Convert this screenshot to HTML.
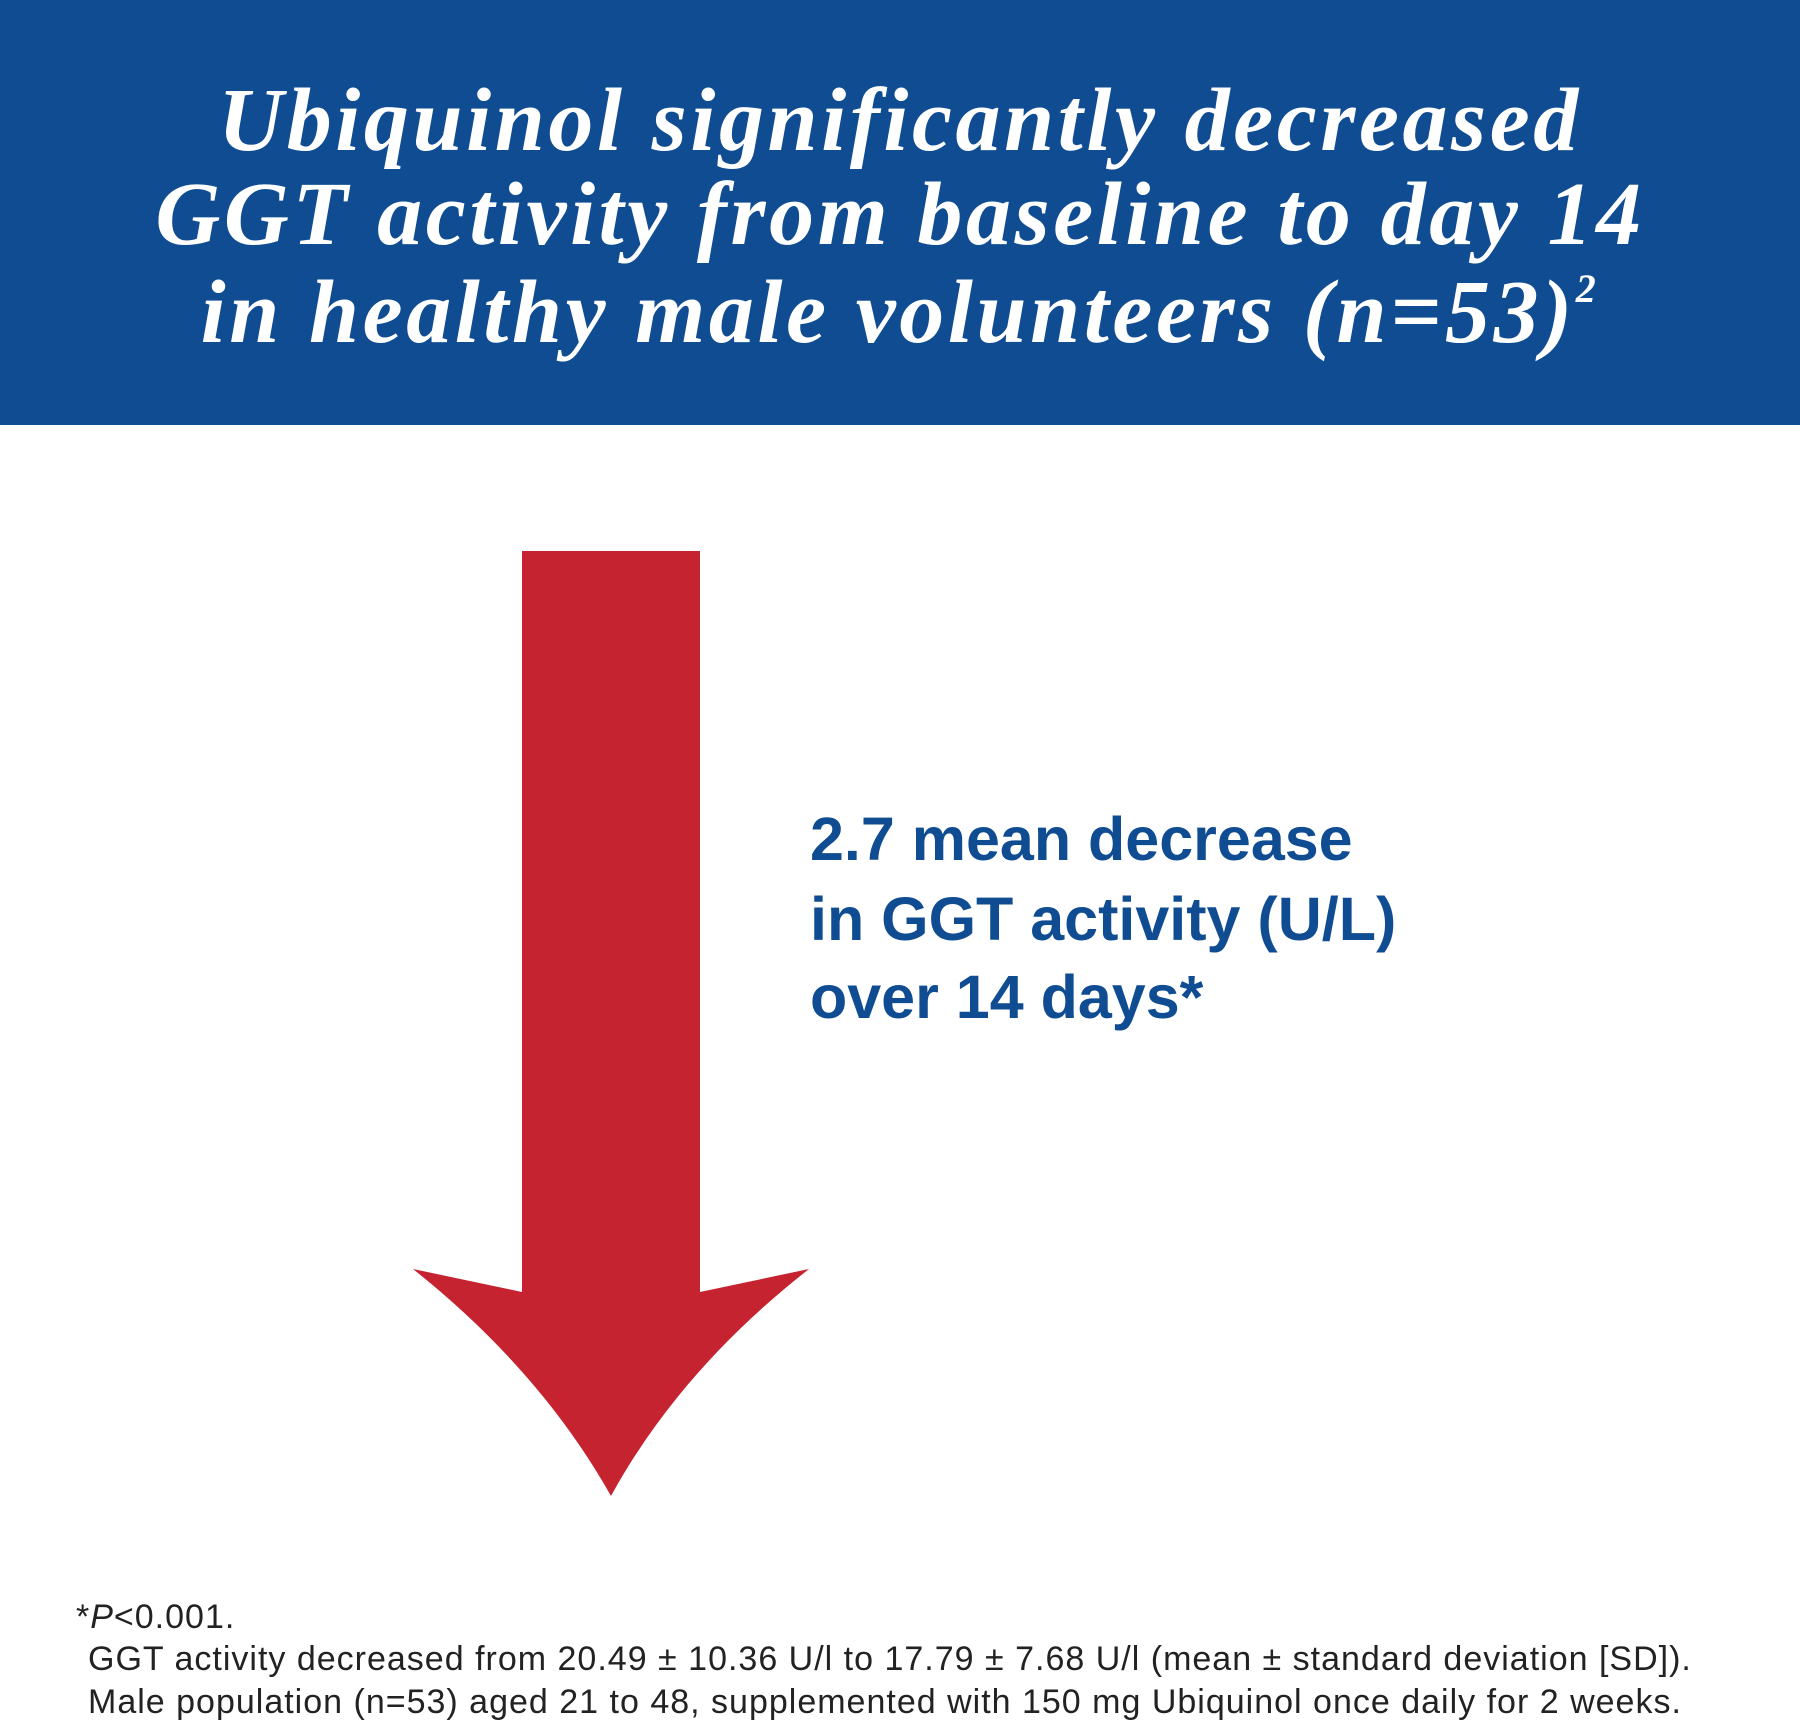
<!DOCTYPE html>
<html><head><meta charset="utf-8"><style>
html,body{margin:0;padding:0;width:1800px;height:1736px;background:#fff;overflow:hidden}
.hdr{position:absolute;left:0;top:0;width:1800px;height:425px;background:#0f4c92}
.t{position:absolute;left:0;width:1800px;text-align:center;color:#fff;font-family:"Liberation Serif",serif;font-weight:bold;font-style:italic;font-size:90px;letter-spacing:3.6px;line-height:1;white-space:nowrap}
.b{position:absolute;left:810px;color:#0f4c92;font-family:"Liberation Sans",sans-serif;font-weight:bold;font-size:61px;line-height:1;white-space:nowrap;letter-spacing:0px}
.f{position:absolute;color:#222;font-family:"Liberation Sans",sans-serif;font-size:34px;letter-spacing:1px;line-height:1;white-space:nowrap}
</style></head><body>
<div class="hdr"></div>
<div class="t" style="top:76px">Ubiquinol significantly decreased</div>
<div class="t" style="top:170px">GGT activity from baseline to day 14</div>
<div class="t" style="top:268px">in healthy male volunteers (n=53)<sup style="font-size:40px;vertical-align:40px">2</sup></div>
<svg style="position:absolute;left:0;top:0" width="1800" height="1736">
<path d="M522 551 H700 V1292 L809 1269 Q680 1370 611 1496 Q540 1370 413 1269 L522 1292 Z" fill="#c4232f"/>
</svg>
<div class="b" style="top:809px">2.7 mean decrease</div>
<div class="b" style="top:889px">in GGT activity (U/L)</div>
<div class="b" style="top:967px">over 14 days*</div>
<div class="f" style="left:76px;top:1600px">*<i>P</i>&lt;0.001.</div>
<div class="f" style="left:88px;top:1642px">GGT activity decreased from 20.49 ± 10.36 U/l to 17.79 ± 7.68 U/l (mean ± standard deviation [SD]).</div>
<div class="f" style="left:88px;top:1685px">Male population (n=53) aged 21 to 48, supplemented with 150 mg Ubiquinol once daily for 2 weeks.</div>
</body></html>
